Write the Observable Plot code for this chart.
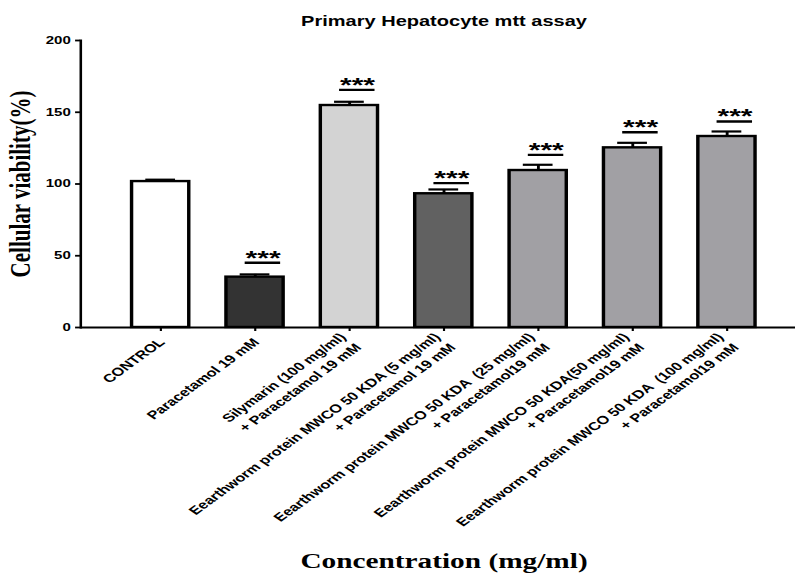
<!DOCTYPE html>
<html><head><meta charset="utf-8">
<script src="https://cdn.jsdelivr.net/npm/d3@7"></script>
<script src="https://cdn.jsdelivr.net/npm/@observablehq/plot@0.6"></script>
<style>
body{margin:0;background:#fff;}
#chart{width:795px;height:574px;overflow:hidden;}
#chart svg{transform:scaleX(1.43);transform-origin:0 0;overflow:visible;max-width:none !important;}
</style></head><body><div id="chart"></div>
<script>
const title = "Primary Hepatocyte mtt assay";
const yLabel = "Cellular viability(%)";
const xLabel = "Concentration (mg/ml)";
const categories = [
  "CONTROL",
  "Paracetamol 19 mM",
  "Silymarin (100 mg/ml)\n+ Paracetamol 19 mM",
  "Eearthworm protein MWCO 50 KDA (5 mg/ml)\n+ Paracetamol 19 mM",
  "Eearthworm protein MWCO 50 KDA  (25 mg/ml)\n+ Paracetamol19 mM",
  "Eearthworm protein MWCO 50 KDA(50 mg/ml)\n+ Paracetamol19 mM",
  "Eearthworm protein MWCO 50 KDA  (100 mg/ml)\n+ Paracetamol19 mM"
];
const viability = [101.7, 35.1, 154.7, 93.2, 109.4, 125.2, 133.1];
const errors = [1.3, 1.9, 2.6, 3.0, 4.0, 3.5, 3.5];
const sigLineY = [null, 45.1, 165.6, 100.6, 120.3, 136.1, 143.6];
const sigStars = ["", "***", "***", "***", "***", "***", "***"];
const yTicks = [0, 50, 100, 150, 200];
const barColors = ["#ffffff", "#333333", "#d3d3d3", "#616161", "#a1a0a4", "#a1a0a4", "#a1a0a4"];

const rows = categories.map((c, i) => ({category: c, value: viability[i], err: errors[i], sig: sigLineY[i], stars: sigStars[i]}));
const sigRows = rows.filter(d => d.sig != null);
const SX = 1.43;
const W = Math.round(795 / SX);

const plot = Plot.plot({
  width: W, height: 574,
  marginTop: 40, marginBottom: 247, marginLeft: 56, marginRight: 0,
  style: {fontFamily: "'Liberation Sans', Arial, sans-serif", fontWeight: "bold", background: "#fff", color: "#000", overflow: "visible"},
  x: {domain: categories, range: [64.5, 555], paddingInner: 0.39, paddingOuter: 0.4},
  y: {domain: [0, 200]},
  color: {domain: categories, range: barColors},
  marks: [
    Plot.barY(rows, {x: "category", y: "value", fill: "category", stroke: "#000", strokeWidth: 2.4}),
    Plot.ruleX(rows, {x: "category", y1: "value", y2: d => d.value + d.err, stroke: "#000", strokeWidth: 2}),
    Plot.tickY(rows, {x: "category", y: d => d.value + d.err, stroke: "#000", strokeWidth: 2.2, insetLeft: 9.6, insetRight: 9.6}),
    Plot.tickY(sigRows, {x: "category", y: "sig", stroke: "#000", insetLeft: 7.6, insetRight: 7.6, dx: 5.5, strokeWidth: 2.4}),
    Plot.text(sigRows, {x: "category", y: "sig", text: "stars", dx: 5.5, dy: 2, lineAnchor: "bottom", fontSize: 21, fontFamily: "'Liberation Sans', Arial, sans-serif", fontWeight: "bold"}),
    Plot.ruleY([0], {strokeWidth: 2}),
    Plot.frame({anchor: "left", strokeWidth: 1.8}),
    Plot.axisY({ticks: yTicks, tickSize: 3.5, tickPadding: 3.5, fontSize: 10.5, strokeWidth: 1.8, label: null}),
    Plot.axisX({tickSize: 4, tickPadding: 8, tickRotate: -46, fontSize: 11.5, lineHeight: 1.3, strokeWidth: 1.5, label: null}),
    Plot.text([title], {frameAnchor: "top", dy: -15, dx: 4, lineAnchor: "bottom", fontSize: 14, fontWeight: "bold"}),
    Plot.text([yLabel], {frameAnchor: "left", textAnchor: "middle", rotate: -90, dx: -42, fontSize: 21, fontFamily: "'Liberation Serif', 'Times New Roman', serif", fontWeight: "bold"}),
    Plot.text([xLabel], {frameAnchor: "bottom", dy: 240, dx: 4, lineAnchor: "bottom", fontSize: 20.5, fontFamily: "'Liberation Serif', 'Times New Roman', serif", fontWeight: "bold"})
  ]
});
document.getElementById("chart").appendChild(plot);
</script>
</body></html>
